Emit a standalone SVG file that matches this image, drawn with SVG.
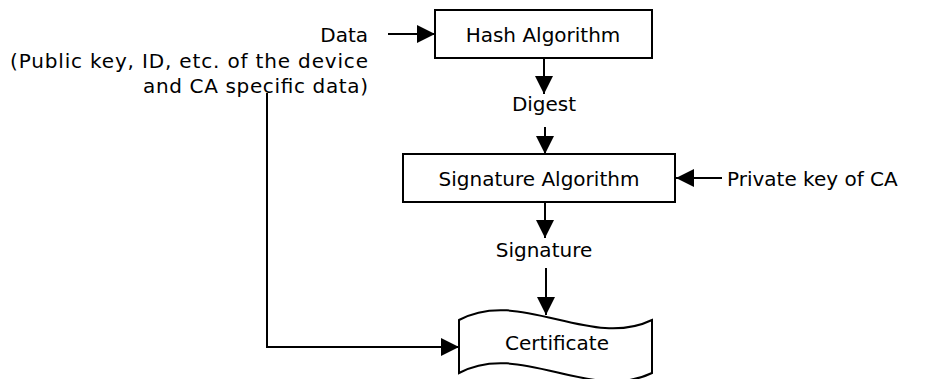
<svg xmlns="http://www.w3.org/2000/svg" width="933" height="379" viewBox="0 0 933 379">
<style>
text{font-family:"DejaVu Sans","Verdana",sans-serif;font-size:20px;fill:#000}
.box{fill:#fff;stroke:#000;stroke-width:2}
.ln{fill:none;stroke:#000;stroke-width:2}
</style>
<defs>
<marker id="ah" viewBox="0 0 10 10" refX="10" refY="5" markerWidth="19" markerHeight="18" markerUnits="userSpaceOnUse" orient="auto">
<path d="M0,0 L10,5 L0,10 Z" fill="#000"/>
</marker>
</defs>
<rect width="933" height="379" fill="#fff"/>
<g id="connectors">
<line class="ln" x1="388" y1="34" x2="435" y2="34" marker-end="url(#ah)"/>
<line class="ln" x1="544" y1="58" x2="544" y2="94" marker-end="url(#ah)"/>
<line class="ln" x1="545" y1="127" x2="545" y2="154" marker-end="url(#ah)"/>
<line class="ln" x1="722" y1="178" x2="676" y2="178" marker-end="url(#ah)"/>
<line class="ln" x1="545" y1="202" x2="545" y2="238" marker-end="url(#ah)"/>
<line class="ln" x1="546" y1="268" x2="546" y2="315" marker-end="url(#ah)"/>
<polyline class="ln" points="267,93 267,347 459,347" marker-end="url(#ah)"/>
</g>
<g id="data">
<text x="368" y="42" text-anchor="end">Data</text>
<text x="368" y="68" text-anchor="end" textLength="358" lengthAdjust="spacing">(Public key, ID, etc. of the device</text>
<text x="368" y="93" text-anchor="end" textLength="225" lengthAdjust="spacing">and CA specific data)</text>
</g>
<g id="hash">
<rect class="box" x="435" y="10" width="217" height="48"/>
<text x="543" y="42" text-anchor="middle">Hash Algorithm</text>
</g>
<g id="digest">
<text x="544" y="111" text-anchor="middle">Digest</text>
</g>
<g id="sig">
<rect class="box" x="403" y="154" width="272" height="48"/>
<text x="539" y="186" text-anchor="middle">Signature Algorithm</text>
</g>
<g id="pk">
<text x="727" y="186">Private key of CA</text>
</g>
<g id="signature">
<text x="544" y="257" text-anchor="middle">Signature</text>
</g>
<g id="cert">
<path class="box" d="M459,320 C520,287 590,350 652,320 L652,373 C590,403 520,340 459,373 Z"/>
<text x="557" y="350" text-anchor="middle">Certificate</text>
</g>
</svg>
